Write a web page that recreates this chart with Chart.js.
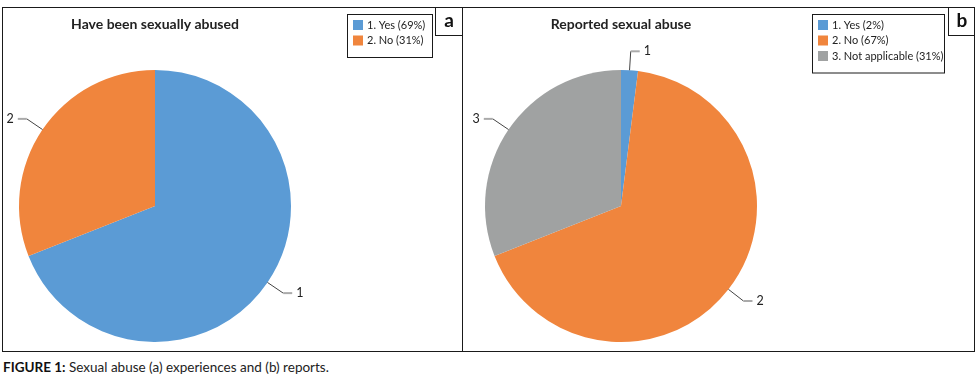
<!DOCTYPE html>
<html>
<head>
<meta charset="utf-8">
<script src="https://cdn.jsdelivr.net/npm/chart.js@4.4.0/dist/chart.umd.min.js"></script>
<style>
  body { margin: 0; background: #fff; font-family: Lato, "Open Sans", sans-serif; }
  #wrap { position: relative; width: 978px; height: 391px; }
  canvas { position: absolute; top: 0; }
  #chartA { left: 0; }
  #chartB { left: 462px; }
  .frame { position: absolute; left: 2px; top: 7px; width: 973px; height: 345px; border: 1px solid #1a1a1a; box-sizing: border-box; }
  .divider { position: absolute; left: 462px; top: 7px; width: 1px; height: 345px; background: #1a1a1a; }
  .tag { position: absolute; top: 7px; width: 27px; height: 29px; border-left: 1px solid #1a1a1a; border-bottom: 1px solid #1a1a1a; box-sizing: border-box;
         font: bold 19px Lato, sans-serif; color: #111; text-align: center; line-height: 25px; }
  .caption { position: absolute; left: 3px; top: 359px; font-size: 13.5px; color: #222; }
  .caption b { color: #111; }
</style>
</head>
<body>
<div id="wrap">
  <canvas id="chartA" width="462" height="352"></canvas>
  <canvas id="chartB" width="516" height="352"></canvas>
  <div class="frame"></div>
  <div class="divider"></div>
  <div class="tag" style="left:435px">a</div>
  <div class="tag" style="left:948px">b</div>
  <div class="caption"><b>FIGURE 1:</b> Sexual abuse (a) experiences and (b) reports.</div>
</div>
<script>
// data
const categoriesA = ['1. Yes', '2. No'];
const valuesA = [69, 31];
const categoriesB = ['1. Yes', '2. No', '3. Not applicable'];
const valuesB = [2, 67, 31];

const colors = ['#5B9BD5', '#F0853D', '#A0A2A2'];

// titles, legend box and leader lines
const extras = {
  id: 'extras',
  afterDraw(chart, args, opts) {
    const ctx = chart.ctx;
    const meta = chart.getDatasetMeta(0);
    const arcs = meta.data;
    const cx = arcs[0].x;

    ctx.save();
    // title
    ctx.font = 'bold 14px Lato, sans-serif';
    ctx.fillStyle = '#222';
    ctx.textAlign = 'center';
    ctx.textBaseline = 'middle';
    ctx.fillText(opts.title, cx, 24);

    // legend
    const labels = chart.data.labels;
    const vals = chart.data.datasets[0].data;
    ctx.font = '11px Lato, sans-serif';
    ctx.strokeStyle = '#1a1a1a';
    ctx.lineWidth = 1;
    ctx.strokeRect(opts.legendX + 0.5, 14.5, opts.legendW, 12 + labels.length * 15.5);
    labels.forEach((l, i) => {
      const y = 25 + i * 15.5;
      ctx.fillStyle = colors[i];
      ctx.fillRect(opts.legendX + 6, y - 5, 10, 10);
      ctx.fillStyle = '#222';
      ctx.textAlign = 'left';
      ctx.fillText(l + ' (' + vals[i] + '%)', opts.legendX + 20, y);
    });

    // leader lines with slice numbers
    ctx.font = '12.5px Lato, sans-serif';
    arcs.forEach((a, i) => {
      const mid = (a.startAngle + a.endAngle) / 2;
      const r = a.outerRadius;
      const c = Math.cos(mid), s = Math.sin(mid);
      const x1 = a.x + c * r, y1 = a.y + s * r;
      const x2 = a.x + c * (r + 19), y2 = a.y + s * (r + 19);
      const dir = c >= 0 ? 1 : -1;
      const x3 = x2 + dir * 9;
      ctx.strokeStyle = '#444';
      ctx.beginPath(); ctx.moveTo(x1, y1); ctx.lineTo(x2, y2); ctx.stroke();
      ctx.strokeStyle = '#aaa';
      ctx.lineWidth = 2;
      ctx.beginPath(); ctx.moveTo(x2, y2); ctx.lineTo(x3, y2); ctx.stroke();
      ctx.lineWidth = 1;
      ctx.fillStyle = '#222';
      ctx.textAlign = dir > 0 ? 'left' : 'right';
      ctx.fillText(String(i + 1), x3 + dir * 4, y2);
    });
    ctx.restore();
  }
};

function makePie(id, labels, values, padding, title, legendX, legendW) {
  return new Chart(document.getElementById(id), {
    type: 'pie',
    data: {
      labels: labels,
      datasets: [{
        data: values,
        backgroundColor: colors.slice(0, values.length),
        borderWidth: 0
      }]
    },
    options: {
      responsive: false,
      animation: false,
      layout: { padding: padding },
      plugins: {
        legend: { display: false },
        tooltip: { enabled: false },
        extras: { title: title, legendX: legendX, legendW: legendW }
      }
    },
    plugins: [extras]
  });
}

makePie('chartA', categoriesA, valuesA, { left: 19, right: 171, top: 70, bottom: 10 }, 'Have been sexually abused', 347, 85);
makePie('chartB', categoriesB, valuesB, { left: 23, right: 221, top: 70, bottom: 10 }, 'Reported sexual abuse', 350, 132);
</script>
</body>
</html>
